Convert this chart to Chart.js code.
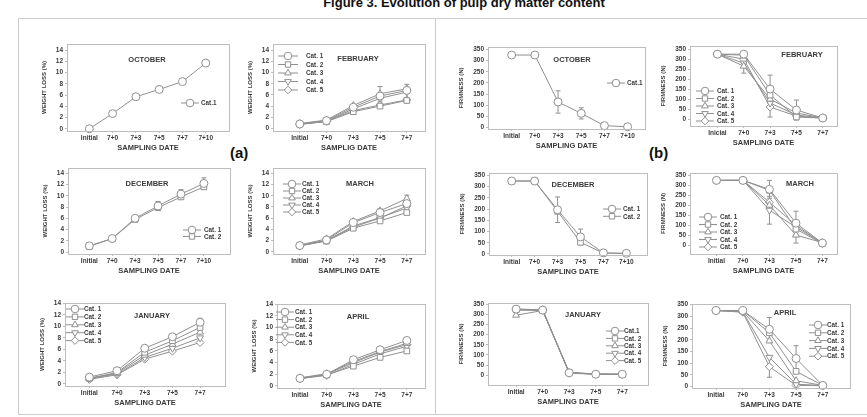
<!DOCTYPE html>
<html>
<head>
<meta charset="utf-8">
<script src="https://cdn.jsdelivr.net/npm/chart.js@4/dist/chart.umd.min.js"></script>
<style>
  body { margin: 0; background: #fff; width: 867px; height: 417px; overflow: hidden; position: relative; font-family: "Liberation Sans", Arial, sans-serif; }
  #title { position: absolute; left: 264px; width: 400px; top: -5px; text-align: center; font: bold 13px "Liberation Sans", Arial, sans-serif; color: #111; }
  #frame { position: absolute; left: 18px; top: 18px; width: 860px; height: 395px; border: 1px solid #ccc; }
  #divider { position: absolute; left: 435px; top: 18px; width: 1px; height: 396px; background: #ccc; }
  .tag { position: absolute; font: bold 15px "Liberation Sans", Arial, sans-serif; color: #111; }
  canvas { position: absolute; }
</style>
</head>
<body>
<div id="title">Figure 3. Evolution of pulp dry matter content</div>
<div id="frame"></div>
<div id="divider"></div>
<div class="tag" style="left:230px;top:144px">(a)</div>
<div class="tag" style="left:649px;top:144px">(b)</div>
<script>
// categories / tick labels
const datesSix = ['Initial', '7+0', '7+3', '7+5', '7+7', '7+10'];
const datesFive = ['Initial', '7+0', '7+3', '7+5', '7+7'];
const datesFiveEs = ['Inicial', '7+0', '7+3', '7+5', '7+7'];
const catNames = ['Cat. 1', 'Cat. 2', 'Cat. 3', 'Cat. 4', 'Cat. 5'];
const wlTicks = [0, 2, 4, 6, 8, 10, 12, 14];
const fTicks = [0, 50, 100, 150, 200, 250, 300, 350];

// (a) weight loss (%)
const wlOct = [[0, 2.7, 5.7, 7.0, 8.4, 11.7]];
const wlOctErr = [[0, 0, 0, 0, 0, 0.5]];
const wlFeb = [
  [0.8, 1.4, 3.8, 5.8, 6.8],
  [0.8, 1.2, 3.0, 4.0, 5.0],
  [0.9, 1.5, 4.1, 6.2, 7.1],
  [0.8, 1.3, 3.5, 5.4, 6.5],
  [0.7, 1.3, 3.2, 4.2, 5.1]
];
const wlFebErr = [null, null, [0, 0, 0, 1.3, 0.8], null, null];
const wlDec = [
  [1.1, 2.4, 6.0, 8.2, 10.3, 12.2],
  [1.0, 2.4, 5.8, 7.9, 9.8, 11.6]
];
const wlDecErr = [[0, 0, 0.3, 0.8, 0.8, 1.0], null];
const wlMar = [
  [1.1, 2.1, 5.2, 7.0, 8.6],
  [1.1, 1.9, 4.2, 5.5, 7.0],
  [1.2, 2.3, 5.4, 7.3, 9.5],
  [1.1, 2.0, 4.6, 6.1, 7.8],
  [1.0, 2.0, 4.4, 6.0, 8.2]
];
const wlMarErr = [null, null, [0, 0, 0, 0.4, 0.6], null, null];
const wlJan = [
  [1.2, 2.3, 6.2, 8.2, 10.7],
  [1.0, 2.0, 5.5, 7.5, 9.8],
  [0.9, 1.9, 5.0, 6.9, 9.0],
  [1.0, 1.7, 4.6, 6.2, 8.0],
  [0.8, 1.6, 4.3, 5.7, 7.2]
];
const wlJanErr = [[0.3, 0.5, 0, 0.4, 0.7], null, null, null, null];
const wlApr = [
  [1.3, 2.0, 4.5, 6.2, 7.8],
  [1.3, 1.9, 3.4, 4.9, 6.0],
  [1.4, 2.1, 4.2, 5.9, 7.3],
  [1.3, 1.8, 3.7, 5.5, 6.8],
  [1.2, 2.0, 4.0, 5.8, 7.1]
];
const wlAprErr = [[0, 0, 0, 0.3, 0.3], null, null, null, null];

// (b) firmness (N)
const fOct = [[325, 325, 115, 64, 9, 4]];
const fOctErr = [[0, 0, 50, 25, 0, 0]];
const fFeb = [
  [325, 325, 150, 45, 5],
  [325, 320, 120, 10, 5],
  [325, 265, 100, 30, 6],
  [325, 280, 80, 20, 5],
  [325, 300, 60, 15, 4]
];
const fFebErr = [[0, 0, 70, 50, 0], null, [0, 35, 0, 0, 0], null, [0, 0, 50, 0, 0]];
const fDec = [
  [325, 325, 197, 76, 5, 3],
  [325, 325, 190, 52, 4, 2]
];
const fDecErr = [[0, 0, 57, 35, 0, 0], null];
const fMar = [
  [325, 325, 280, 110, 10],
  [325, 325, 275, 80, 8],
  [325, 325, 200, 50, 12],
  [325, 325, 175, 90, 10],
  [325, 325, 215, 100, 8]
];
const fMarErr = [[0, 0, 45, 60, 0], null, [0, 0, 0, 40, 0], [0, 0, 70, 0, 0], null];
const fJan = [
  [325, 320, 12, 5, 5],
  [322, 318, 12, 5, 4],
  [295, 318, 15, 6, 5],
  [320, 320, 10, 5, 5],
  [325, 322, 13, 5, 4]
];
const fJanErr = [null, null, null, null, null];
const fApr = [
  [325, 325, 245, 120, 5],
  [325, 325, 230, 65, 5],
  [325, 322, 195, 25, 5],
  [325, 320, 125, 10, 5],
  [325, 318, 85, 5, 4]
];
const fAprErr = [[0, 0, 50, 55, 0], null, null, null, [0, 0, 45, 0, 0]];

const GREY = '#909090';
const TXT = '#3a3a3a';
const STYLES = ['circle', 'rect', 'triangle', 'triangle', 'rectRot'];
const ROTS = [0, 0, 0, 180, 0];
const FAM = '"Liberation Sans", Arial, sans-serif';

// layout of the 12 small plots (page pixels)
const panels = [
  { kind: 'wl', cats: datesSix, vals: wlOct, errs: wlOctErr, names: ['Cat.1'], month: 'OCTOBER', mx: 147, my: 60,
    box: [67, 44, 229, 131], xr: [-0.96, 6.0], yr: [-0.4, 15.1], xt: 'SAMPLING DATE', leg: [190, 103, 7, 9, 11] },
  { kind: 'wl', cats: datesFive, vals: wlFeb, errs: wlFebErr, names: catNames, month: 'FEBRUARY', mx: 358, my: 59,
    box: [273, 44, 425, 131], xr: [-1.0, 4.68], yr: [-0.45, 15.1], xt: 'SAMPLIG DATE', leg: [288, 56, 8.5, 10, 18] },
  { kind: 'wl', cats: datesSix, vals: wlDec, errs: wlDecErr, names: ['Cat. 1', 'Cat. 2'], month: 'DECEMBER', mx: 147, my: 184,
    box: [68, 168, 230, 254], xr: [-0.93, 6.14], yr: [-0.35, 14.95], xt: 'SAMPLING DATE', leg: [192, 230, 6.5, 9, 12] },
  { kind: 'wl', cats: datesFive, vals: wlMar, errs: wlMarErr, names: catNames, month: 'MARCH', mx: 360, my: 184,
    box: [273, 168, 425, 254], xr: [-1.0, 4.68], yr: [-0.4, 14.95], xt: 'SAMPLING DATE', leg: [292, 184, 7, 9, 10] },
  { kind: 'wl', cats: datesFive, vals: wlJan, errs: wlJanErr, names: catNames, month: 'JANUARY', mx: 152, my: 316,
    box: [65, 303, 225, 386], xr: [-0.88, 4.9], yr: [-0.35, 14.05], xt: 'SAMPLING DATE', leg: [75, 309, 7.9, 9, 9] },
  { kind: 'wl', cats: datesFive, vals: wlApr, errs: wlAprErr, names: catNames, month: 'APRIL', mx: 358, my: 317,
    box: [277, 304, 425, 388], xr: [-0.86, 4.68], yr: [-0.35, 14.05], xt: 'SAMPLING DATE', leg: [285, 312, 7.6, 9, 10] },

  { kind: 'f', cats: datesSix, vals: fOct, errs: fOctErr, names: ['Cat.1'], month: 'OCTOBER', mx: 572, my: 60,
    box: [488, 47, 645, 129], xr: [-1.02, 5.75], yr: [-6, 361], xt: 'SAMPLING DATE', leg: [616, 83, 7, 9, 11] },
  { kind: 'f', cats: datesFiveEs, vals: fFeb, errs: fFebErr, names: catNames, month: 'FEBRUARY', mx: 802, my: 55,
    box: [690, 46, 837, 126], xr: [-1.04, 4.54], yr: [-35, 366], xt: 'SAMPLING DATE', leg: [705, 91, 7.5, 9, 12] },
  { kind: 'f', cats: datesSix, vals: fDec, errs: fDecErr, names: ['Cat. 1', 'Cat. 2'], month: 'DECEMBER', mx: 573, my: 185,
    box: [489, 173, 647, 255], xr: [-0.99, 5.9], yr: [-4.5, 360.7], xt: 'SAMPLING DATE', leg: [612, 209, 7.3, 9, 11] },
  { kind: 'f', cats: datesFive, vals: fMar, errs: fMarErr, names: catNames, month: 'MARCH', mx: 800, my: 184,
    box: [690, 173, 837, 254], xr: [-1.0, 4.55], yr: [-45, 362], xt: 'SAMPLING DATE', leg: [708, 217, 7.5, 9, 12] },
  { kind: 'f', cats: datesFive, vals: fJan, errs: fJanErr, names: ['Cat.1', 'Cat. 2', 'Cat. 3', 'Cat. 4', 'Cat. 5'], month: 'JANUARY', mx: 583, my: 315,
    box: [488, 303, 648, 385], xr: [-1.06, 4.97], yr: [-48, 355], xt: 'SAMPLING DATE', leg: [615, 331, 7.4, 9, 9] },
  { kind: 'f', cats: datesFive, vals: fApr, errs: fAprErr, names: catNames, month: 'APRIL', mx: 785, my: 313,
    box: [692, 304, 850, 388], xr: [-0.9, 5.02], yr: [-6, 353], xt: 'SAMPLING DATE', leg: [818, 325, 7.8, 9, 9] }
];

function drawPanel(p) {
  const Wy = p.kind === 'wl' ? 26 : 30;
  const Hx = 22, padT = 6, padR = 8;
  const left = p.box[0] - Wy, top = p.box[1] - padT;
  const w = p.box[2] - p.box[0] + Wy + padR;
  const h = p.box[3] - p.box[1] + padT + Hx;
  const cv = document.createElement('canvas');
  cv.width = w; cv.height = h;
  cv.style.left = left + 'px'; cv.style.top = top + 'px';
  document.body.appendChild(cv);

  const yTicks = p.kind === 'wl' ? wlTicks : fTicks;
  const tickFont = { family: FAM, size: 6.5, weight: 'bold' };

  const deco = {
    id: 'deco',
    beforeDatasetsDraw(c) {
      const ctx = c.ctx, xs = c.scales.x, ys = c.scales.y;
      ctx.save();
      ctx.strokeStyle = GREY; ctx.lineWidth = 1;
      p.vals.forEach((vals, i) => {
        const e = p.errs[i];
        if (!e) return;
        vals.forEach((v, j) => {
          if (!e[j]) return;
          const x = xs.getPixelForValue(j);
          const y1 = ys.getPixelForValue(v + e[j]), y2 = ys.getPixelForValue(v - e[j]);
          ctx.beginPath();
          ctx.moveTo(x, y1); ctx.lineTo(x, y2);
          ctx.moveTo(x - 2.5, y1); ctx.lineTo(x + 2.5, y1);
          ctx.moveTo(x - 2.5, y2); ctx.lineTo(x + 2.5, y2);
          ctx.stroke();
        });
      });
      ctx.restore();
    },
    afterDraw(c) {
      const ctx = c.ctx, a = c.chartArea;
      ctx.save();
      ctx.strokeStyle = '#bdbdbd'; ctx.lineWidth = 1;
      ctx.strokeRect(Math.round(a.left) + 0.5, Math.round(a.top) + 0.5, Math.round(a.right - a.left), Math.round(a.bottom - a.top));
      ctx.fillStyle = TXT;
      ctx.font = 'bold 7.5px ' + FAM;
      ctx.textAlign = 'center'; ctx.textBaseline = 'middle';
      ctx.fillText(p.month, p.mx - left, p.my - top);
      // legend inside the plot
      const [lx, ly, dy, hl, to] = p.leg;
      p.names.forEach((name, i) => {
        const x = lx - left, y = ly - top + i * dy;
        ctx.strokeStyle = GREY; ctx.lineWidth = 1;
        ctx.beginPath(); ctx.moveTo(x - hl, y); ctx.lineTo(x + hl, y); ctx.stroke();
        ctx.fillStyle = '#fff';
        Chart.helpers.drawPoint(ctx, { pointStyle: STYLES[i], rotation: ROTS[i], radius: 3.8, borderWidth: 1 }, x, y);
        ctx.fillStyle = TXT;
        ctx.font = 'bold 6.3px ' + FAM;
        ctx.textAlign = 'left';
        ctx.fillText(name, x + to, y + 0.5);
      });
      ctx.restore();
    }
  };

  new Chart(cv, {
    type: 'line',
    data: {
      datasets: p.vals.map((vals, i) => ({
        label: p.names[i],
        data: vals.map((v, j) => ({ x: j, y: v })),
        borderColor: GREY,
        borderWidth: 1,
        pointStyle: STYLES[i],
        pointRotation: ROTS[i],
        pointRadius: 4,
        pointBorderWidth: 1,
        pointBorderColor: GREY,
        pointBackgroundColor: '#fff',
        tension: 0,
        clip: false
      }))
    },
    options: {
      responsive: false,
      animation: false,
      devicePixelRatio: 1,
      layout: { padding: { top: padT, right: padR, left: 0, bottom: 0 } },
      plugins: { legend: { display: false }, tooltip: { enabled: false } },
      scales: {
        x: {
          type: 'linear', min: p.xr[0], max: p.xr[1],
          afterBuildTicks: s => { s.ticks = p.cats.map((c, i) => ({ value: i })); },
          afterFit: s => { s.height = Hx; },
          ticks: { callback: v => p.cats[v], font: tickFont, color: TXT, padding: 1, autoSkip: false, maxRotation: 0 },
          grid: { drawOnChartArea: false, tickLength: 2, color: '#bdbdbd' },
          border: { display: false },
          title: { display: true, text: p.xt, color: TXT, font: { family: FAM, size: 7.5, weight: 'bold' }, padding: { top: 0, bottom: 1 } }
        },
        y: {
          min: p.yr[0], max: p.yr[1],
          afterBuildTicks: s => { s.ticks = yTicks.map(v => ({ value: v })); },
          afterFit: s => { s.width = Wy; },
          ticks: { font: tickFont, color: TXT, padding: 2 },
          grid: { drawOnChartArea: false, tickLength: 2, color: '#bdbdbd' },
          border: { display: false },
          title: { display: true, text: p.kind === 'wl' ? 'WEIGHT LOSS (%)' : 'FIRMNESS (N)', color: TXT, font: { family: FAM, size: 6, weight: 'bold' }, padding: { top: 0, bottom: 0 } }
        }
      }
    },
    plugins: [deco]
  });
}

panels.forEach(drawPanel);
</script>
</body>
</html>
